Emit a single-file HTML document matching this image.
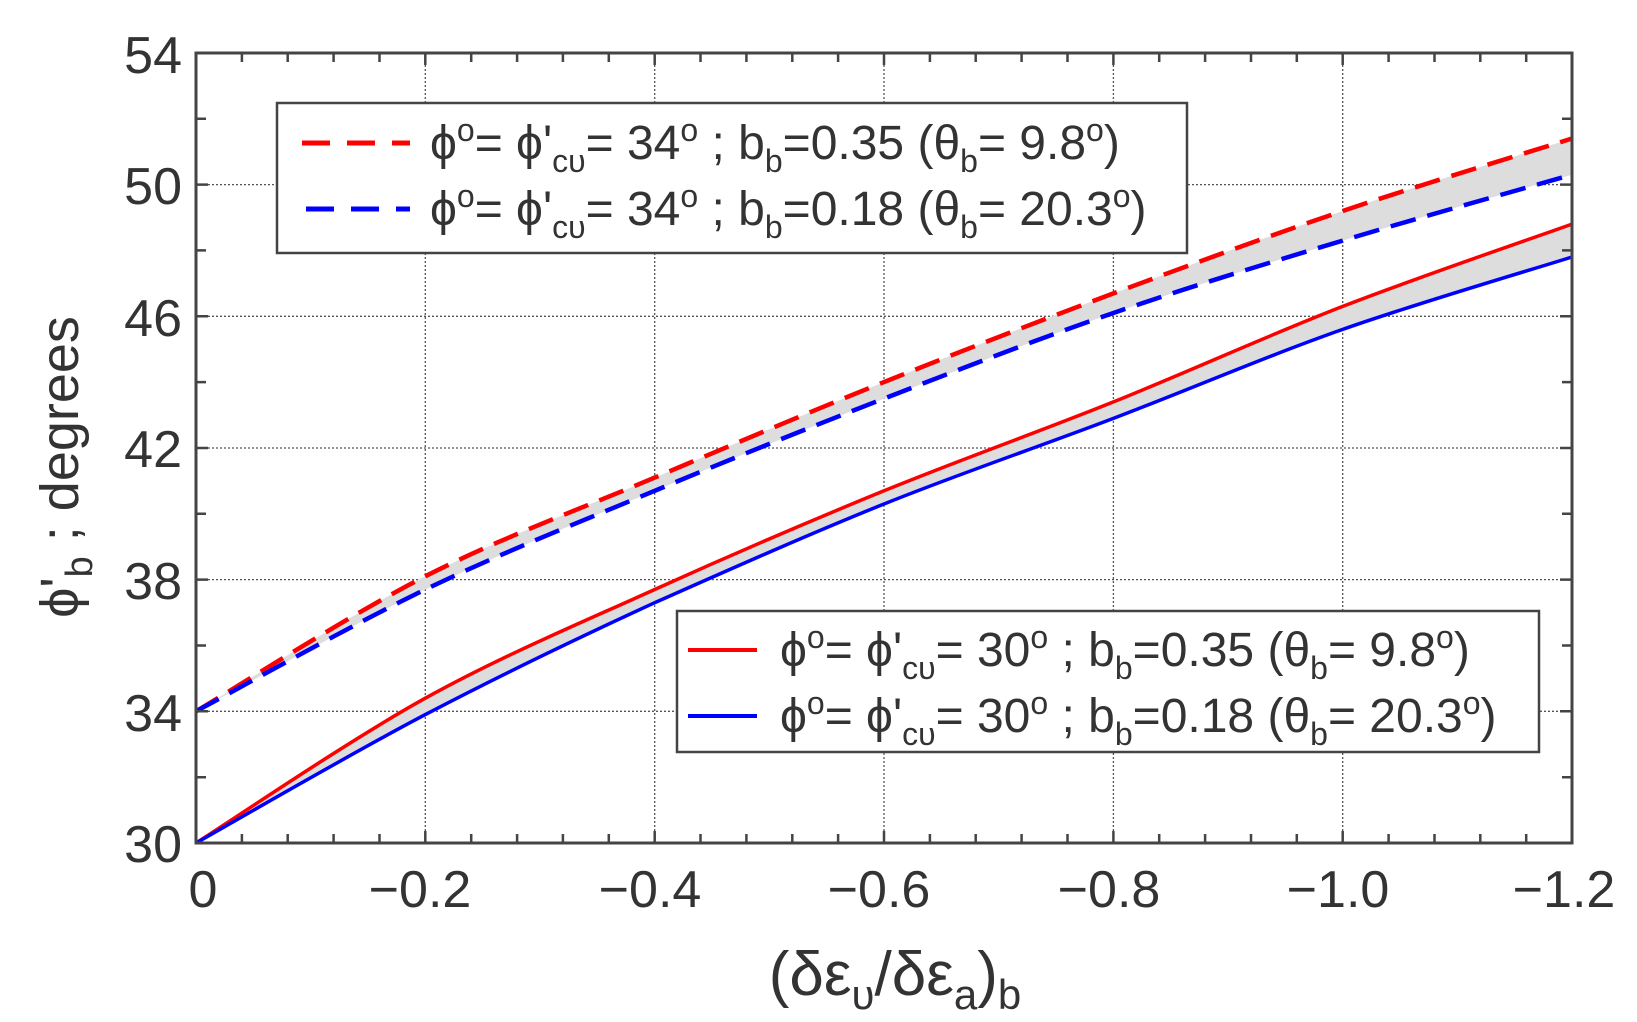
<!DOCTYPE html>
<html><head><meta charset="utf-8"><style>
html,body{margin:0;padding:0;background:#fff}
svg{display:block}
text{font-family:"Liberation Sans",sans-serif;fill:#333}
</style></head><body>
<svg width="1637" height="1022" viewBox="0 0 1637 1022" xmlns="http://www.w3.org/2000/svg">
<g stroke="#555" stroke-width="1.3" stroke-dasharray="2,2">
<path d="M425.3,53V843M654.7,53V843M884,53V843M1113.4,53V843M1342.7,53V843M196,711.3H1572M196,579.6H1572M196,448H1572M196,316.3H1572M196,184.6H1572"/>
</g>
<path fill="#ddd" d="M196,711.3 C234.2,688.8 348.9,615.25 425.3,576.3 C501.7,537.35 578.3,509.97 654.7,477.6 C731.1,445.23 807.6,412.8 884,382.1 C960.4,351.4 1037,321.92 1113.4,293.4 C1189.8,264.88 1266.3,236.82 1342.7,211 C1419.1,185.18 1533.8,150.58 1572,138.5 L1572,174.7 C1533.8,185.68 1419.1,217.55 1342.7,240.6 C1266.3,263.65 1189.8,286.67 1113.4,313 C1037,339.33 960.4,368.97 884,398.6 C807.6,428.23 731.1,458.98 654.7,490.8 C578.3,522.62 501.7,552.75 425.3,589.5 C348.9,626.25 234.2,691 196,711.3Z"/>
<path fill="#ddd" d="M196,843 C234.2,818.87 348.9,740.45 425.3,698.2 C501.7,655.95 578.3,624.07 654.7,589.5 C731.1,554.93 807.6,522.07 884,490.8 C960.4,459.53 1037,432.63 1113.4,401.9 C1189.8,371.17 1266.3,336.03 1342.7,306.4 C1419.1,276.77 1533.8,237.82 1572,224.1 L1572,257 C1533.8,269.07 1419.1,302.5 1342.7,329.4 C1266.3,356.3 1189.8,389.3 1113.4,418.4 C1037,447.5 960.4,473.28 884,504 C807.6,534.72 731.1,568.9 654.7,602.7 C578.3,637.8 501.7,674.55 425.3,714.6 C348.9,754.65 234.2,821.6 196,843Z"/>
<g fill="none">
<path stroke="#f00" stroke-width="3.5" d="M196,843 C234.2,818.87 348.9,740.45 425.3,698.2 C501.7,655.95 578.3,624.07 654.7,589.5 C731.1,554.93 807.6,522.07 884,490.8 C960.4,459.53 1037,432.63 1113.4,401.9 C1189.8,371.17 1266.3,336.03 1342.7,306.4 C1419.1,276.77 1533.8,237.82 1572,224.1"/>
<path stroke="#00f" stroke-width="3.5" d="M196,843 C234.2,821.6 348.9,754.65 425.3,714.6 C501.7,674.55 578.3,637.8 654.7,602.7 C731.1,568.9 807.6,534.72 884,504 C960.4,473.28 1037,447.5 1113.4,418.4 C1189.8,389.3 1266.3,356.3 1342.7,329.4 C1419.1,302.5 1533.8,269.07 1572,257"/>
<path stroke="#f00" stroke-width="4.5" stroke-dasharray="26,12" d="M196,711.3 C234.2,688.8 348.9,615.25 425.3,576.3 C501.7,537.35 578.3,509.97 654.7,477.6 C731.1,445.23 807.6,412.8 884,382.1 C960.4,351.4 1037,321.92 1113.4,293.4 C1189.8,264.88 1266.3,236.82 1342.7,211 C1419.1,185.18 1533.8,150.58 1572,138.5"/>
<path stroke="#00f" stroke-width="4.5" stroke-dasharray="26,12" d="M196,711.3 C234.2,691 348.9,626.25 425.3,589.5 C501.7,552.75 578.3,522.62 654.7,490.8 C731.1,458.98 807.6,428.23 884,398.6 C960.4,368.97 1037,339.33 1113.4,313 C1189.8,286.67 1266.3,263.65 1342.7,240.6 C1419.1,217.55 1533.8,185.68 1572,174.7"/>
</g>
<rect x="196" y="53" width="1376" height="790" fill="none" stroke="#444" stroke-width="3"/>
<g stroke="#444" stroke-width="2.5">
<path d="M241.9,843v-9M287.7,843v-9M333.6,843v-9M379.5,843v-9M425.3,843v-12M471.2,843v-9M517.1,843v-9M562.9,843v-9M608.8,843v-9M654.7,843v-12M700.5,843v-9M746.4,843v-9M792.3,843v-9M838.1,843v-9M884,843v-12M929.9,843v-9M975.7,843v-9M1021.6,843v-9M1067.5,843v-9M1113.4,843v-12M1159.2,843v-9M1205.1,843v-9M1251,843v-9M1296.8,843v-9M1342.7,843v-12M1388.6,843v-9M1434.5,843v-9M1480.3,843v-9M1526.2,843v-9"/>
<path d="M241.9,53v9M287.7,53v9M333.6,53v9M379.5,53v9M425.3,53v12M471.2,53v9M517.1,53v9M562.9,53v9M608.8,53v9M654.7,53v12M700.5,53v9M746.4,53v9M792.3,53v9M838.1,53v9M884,53v12M929.9,53v9M975.7,53v9M1021.6,53v9M1067.5,53v9M1113.4,53v12M1159.2,53v9M1205.1,53v9M1251,53v9M1296.8,53v9M1342.7,53v12M1388.6,53v9M1434.5,53v9M1480.3,53v9M1526.2,53v9"/>
<path d="M196,777.2h10M196,711.3h12M196,645.5h10M196,579.6h12M196,513.8h10M196,448h12M196,382.1h10M196,316.3h12M196,250.4h10M196,184.6h12M196,118.8h10"/>
<path d="M1572,777.2h-10M1572,711.3h-12M1572,645.5h-10M1572,579.6h-12M1572,513.8h-10M1572,448h-12M1572,382.1h-10M1572,316.3h-12M1572,250.4h-10M1572,184.6h-12M1572,118.8h-10"/>
</g>
<g font-size="52" text-anchor="end">
<text x="182" y="73">54</text><text x="182" y="204">50</text><text x="182" y="336">46</text>
<text x="182" y="467">42</text><text x="182" y="599">38</text><text x="182" y="731">34</text><text x="182" y="862">30</text>
</g>
<g font-size="52" text-anchor="middle">
<text x="203" y="907">0</text><text x="420" y="907">−0.2</text><text x="650" y="907">−0.4</text>
<text x="879" y="907">−0.6</text><text x="1109" y="907">−0.8</text><text x="1338" y="907">−1.0</text><text x="1564" y="907">−1.2</text>
</g>
<text font-size="62" text-anchor="middle" x="895" y="995">(δε<tspan font-size="42" dy="14">υ</tspan><tspan dy="-14">/δε</tspan><tspan font-size="42" dy="14">a</tspan><tspan dy="-14">)</tspan><tspan font-size="42" dy="14">b</tspan></text>
<text font-size="54" text-anchor="middle" transform="translate(78,467) rotate(-90)">ϕ'<tspan font-size="38" dy="14">b</tspan><tspan dy="-14"> ; degrees</tspan></text>
<rect x="277" y="103" width="910" height="150" fill="#fff" stroke="#444" stroke-width="2.5"/>
<line x1="302" y1="143" x2="410" y2="143" stroke="#f00" stroke-width="5" stroke-dasharray="28,17"/>
<line x1="306" y1="209" x2="410" y2="209" stroke="#00f" stroke-width="5" stroke-dasharray="28,17"/>
<g font-size="48">
<text x="430" y="159">ϕ<tspan font-size="32" dy="-18">o</tspan><tspan dy="18">= ϕ'</tspan><tspan font-size="32" dy="13">cυ</tspan><tspan dy="-13">= 34</tspan><tspan font-size="32" dy="-18">o</tspan><tspan dy="18"> ; b</tspan><tspan font-size="32" dy="13">b</tspan><tspan dy="-13">=0.35 (θ</tspan><tspan font-size="32" dy="13">b</tspan><tspan dy="-13">= 9.8</tspan><tspan font-size="32" dy="-18">o</tspan><tspan dy="18">)</tspan></text>
<text x="430" y="225">ϕ<tspan font-size="32" dy="-18">o</tspan><tspan dy="18">= ϕ'</tspan><tspan font-size="32" dy="13">cυ</tspan><tspan dy="-13">= 34</tspan><tspan font-size="32" dy="-18">o</tspan><tspan dy="18"> ; b</tspan><tspan font-size="32" dy="13">b</tspan><tspan dy="-13">=0.18 (θ</tspan><tspan font-size="32" dy="13">b</tspan><tspan dy="-13">= 20.3</tspan><tspan font-size="32" dy="-18">o</tspan><tspan dy="18">)</tspan></text>
</g>
<rect x="677" y="611" width="862" height="141" fill="#fff" stroke="#444" stroke-width="2.5"/>
<line x1="688" y1="650" x2="757" y2="650" stroke="#f00" stroke-width="4"/>
<line x1="688" y1="716" x2="757" y2="716" stroke="#00f" stroke-width="4"/>
<g font-size="48">
<text x="780" y="666">ϕ<tspan font-size="32" dy="-18">o</tspan><tspan dy="18">= ϕ'</tspan><tspan font-size="32" dy="13">cυ</tspan><tspan dy="-13">= 30</tspan><tspan font-size="32" dy="-18">o</tspan><tspan dy="18"> ; b</tspan><tspan font-size="32" dy="13">b</tspan><tspan dy="-13">=0.35 (θ</tspan><tspan font-size="32" dy="13">b</tspan><tspan dy="-13">= 9.8</tspan><tspan font-size="32" dy="-18">o</tspan><tspan dy="18">)</tspan></text>
<text x="780" y="732">ϕ<tspan font-size="32" dy="-18">o</tspan><tspan dy="18">= ϕ'</tspan><tspan font-size="32" dy="13">cυ</tspan><tspan dy="-13">= 30</tspan><tspan font-size="32" dy="-18">o</tspan><tspan dy="18"> ; b</tspan><tspan font-size="32" dy="13">b</tspan><tspan dy="-13">=0.18 (θ</tspan><tspan font-size="32" dy="13">b</tspan><tspan dy="-13">= 20.3</tspan><tspan font-size="32" dy="-18">o</tspan><tspan dy="18">)</tspan></text>
</g>
</svg>
</body></html>
